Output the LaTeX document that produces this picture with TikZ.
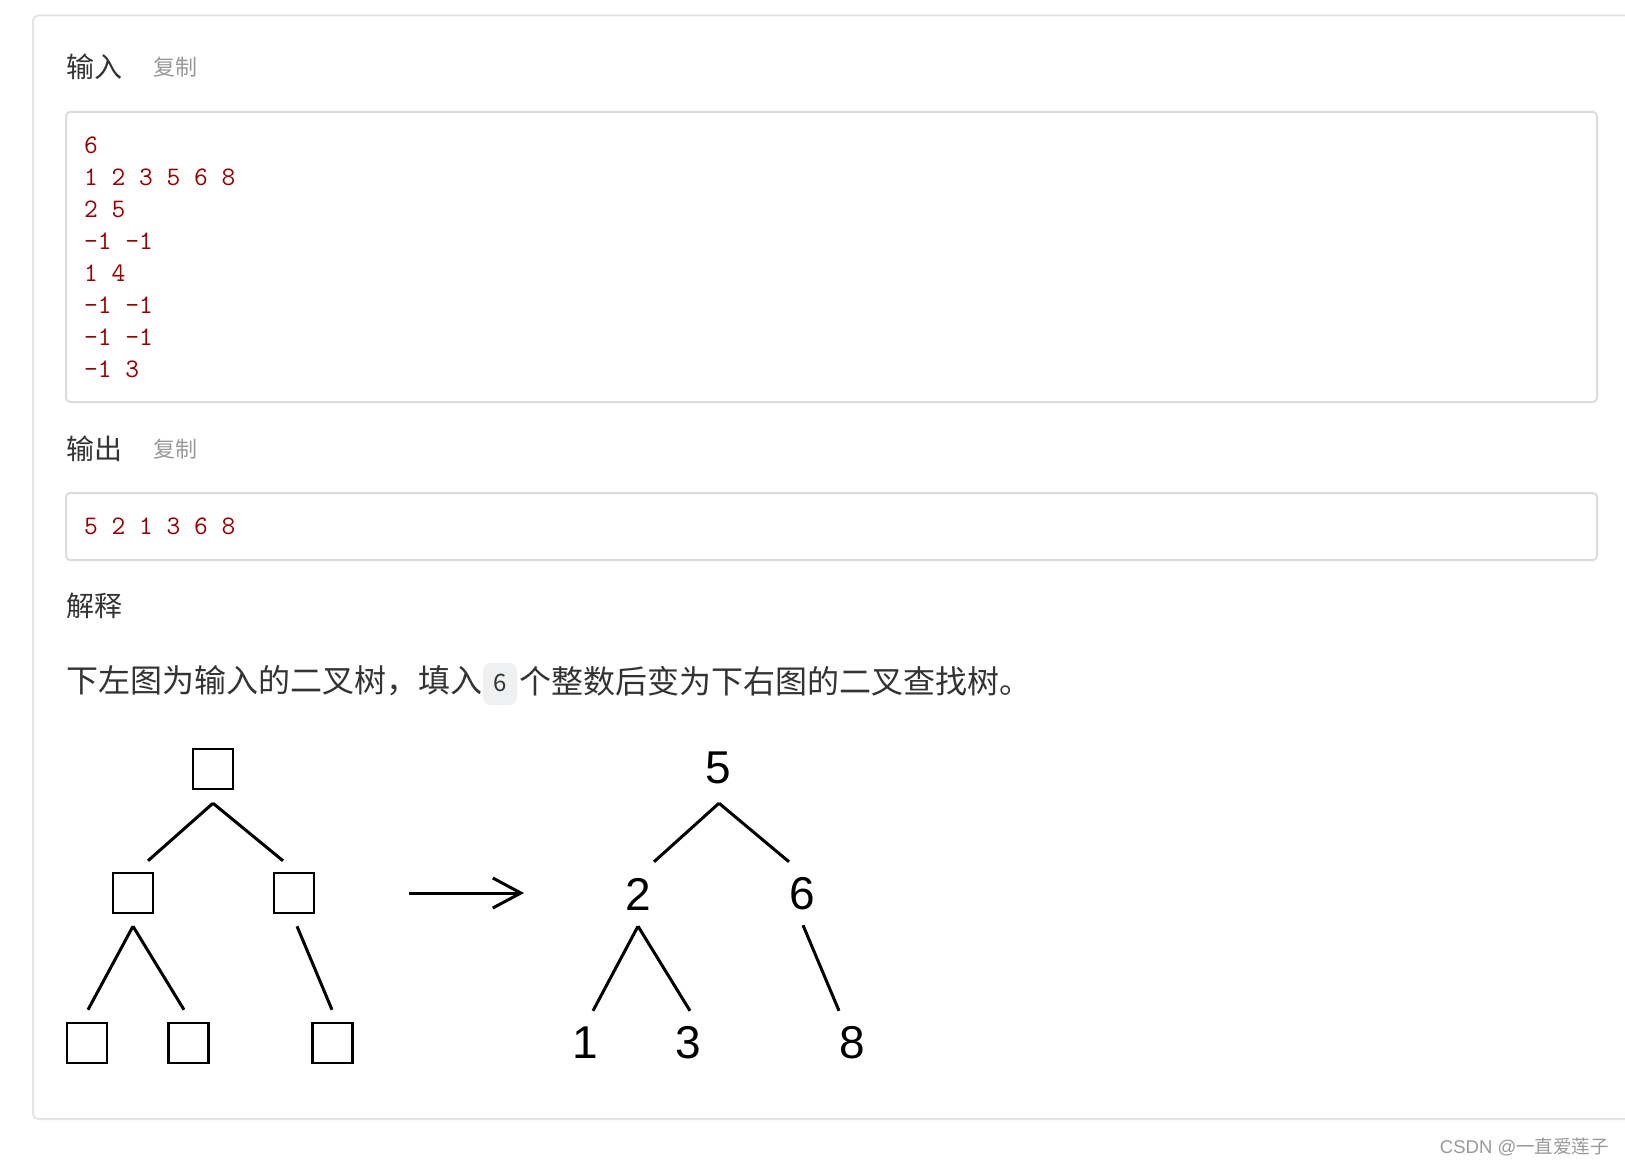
\documentclass[tikz,border=0pt]{standalone}
\usepackage{fontspec}
\newfontfamily\cjk{Noto Sans CJK SC}
\newfontfamily\arialf{Liberation Sans}
\usetikzlibrary{arrows.meta}

\definecolor{framegray}{HTML}{E4E4E4}
\definecolor{boxgray}{HTML}{DCDCDC}
\definecolor{codered}{HTML}{990000}
\definecolor{headgray}{HTML}{333333}
\definecolor{copygray}{HTML}{999999}
\definecolor{chipgray}{HTML}{EFF0F2}

\tikzset{
  heading/.style={anchor=west, inner sep=0pt, text=headgray, font=\cjk\fontsize{28}{30}\selectfont},
  copylink/.style={anchor=west, inner sep=0pt, text=copygray, font=\cjk\fontsize{22}{24}\selectfont},
  codeline/.style={anchor=west, inner sep=0pt, text=codered, font=\ttfamily\fontsize{26.7}{28}\selectfont},
  codebox/.style={draw=boxgray, line width=2pt, rounded corners=4pt},
  hole/.style={draw, line width=2.5pt, minimum size=40pt, inner sep=0pt},
  numnode/.style={minimum size=40pt, inner sep=0pt, font=\arialf\fontsize{46}{46}\selectfont},
  branch/.style={line width=3pt},
}

\begin{document}
\begin{tikzpicture}[x=1pt,y=-1pt]
  \useasboundingbox (0,0) rectangle (1625,1166);
  \fill[white] (0,0) rectangle (1625,1166);

  % panel frame
  \draw[framegray, line width=2pt, rounded corners=5pt] (1625,15.5) -- (33,15.5) -- (33,1119) -- (1625,1119);

  % input
  \node[heading] (inhead) at (66,67) {输入};
  \node[copylink] (incopy) at (153,67) {复制};
  \draw[codebox] (66,112) rectangle (1597,402);
  \foreach \t [count=\i from 0] in {6,1 2 3 5 6 8,2 5,-1 -1,1 4,-1 -1,-1 -1,-1 3}
    \node[codeline] (in\i) at (84,145+32.1*\i) {\t};

  % output
  \node[heading] (outhead) at (66,449) {输出};
  \node[copylink] (outcopy) at (153,449) {复制};
  \draw[codebox] (66,493) rectangle (1597,560);
  \node[codeline] (out) at (84,526) {5 2 1 3 6 8};

  % explanation
  \node[heading] (exhead) at (66,606) {解释};
  \node[anchor=west, inner sep=0pt, text=headgray, font=\cjk\fontsize{32}{34}\selectfont] (sent1) at (66,681) {下左图为输入的二叉树，填入};
  \fill[chipgray, rounded corners=8pt] (483,663) rectangle (517,705);
  \node[inner sep=0pt, text=headgray, font=\cjk\fontsize{24}{26}\selectfont] (chip) at (500,683) {6};
  \node[anchor=west, inner sep=0pt, text=headgray, font=\cjk\fontsize{32}{34}\selectfont] (sent2) at (519,681) {个整数后变为下右图的二叉查找树。};

  % left tree
  \node[hole] (L0) at (213,769) {};
  \node[hole] (L1) at (133,893) {};
  \node[hole] (L2) at (294,893) {};
  \node[hole] (L3) at (87,1043) {};
  \node[hole] (L4) at (188.5,1043) {};
  \node[hole] (L5) at (332.5,1043) {};
  \draw[branch] ([yshift=-13pt]L0.south) -- ([shift={(15pt,11pt)}]L1.north);
  \draw[branch] ([yshift=-13pt]L0.south) -- ([shift={(-11pt,11pt)}]L2.north);
  \draw[branch] ([yshift=-12pt]L1.south) -- ([shift={(1pt,12pt)}]L3.north);
  \draw[branch] ([yshift=-12pt]L1.south) -- ([shift={(-4.5pt,12pt)}]L4.north);
  \draw[branch] ([shift={(3pt,-12pt)}]L2.south) -- ([shift={(-0.5pt,12pt)}]L5.north);

  % arrow
  \coordinate (arrA) at (409,893);
  \coordinate (arrB) at (524,893);
  \draw[line width=3pt, -{Straight Barb[length=28pt,width=30pt]}] (arrA) -- (arrB);

  % right tree
  \node[numnode] (R0) at (718.5,768) {5};
  \node[numnode] (R1) at (638,894) {2};
  \node[numnode] (R2) at (802,894) {6};
  \node[numnode] (R3) at (585,1043) {1};
  \node[numnode] (R4) at (688,1043) {3};
  \node[numnode] (R5) at (852,1043) {8};
  \draw[branch] ([shift={(0.5pt,-15pt)}]R0.south) -- ([shift={(16pt,12pt)}]R1.north);
  \draw[branch] ([shift={(0.5pt,-15pt)}]R0.south) -- ([shift={(-13pt,12pt)}]R2.north);
  \draw[branch] ([yshift=-12pt]R1.south) -- ([shift={(8pt,12pt)}]R3.north);
  \draw[branch] ([yshift=-12pt]R1.south) -- ([shift={(2pt,12pt)}]R4.north);
  \draw[branch] ([shift={(1pt,-11pt)}]R2.south) -- ([shift={(-13pt,12pt)}]R5.north);

  % watermark
  \node[anchor=east, inner sep=0pt, text=copygray, font=\cjk\fontsize{18.5}{20}\selectfont] (mark) at (1609,1147) {{\arialf CSDN @}一直爱莲子};
\end{tikzpicture}
\end{document}
